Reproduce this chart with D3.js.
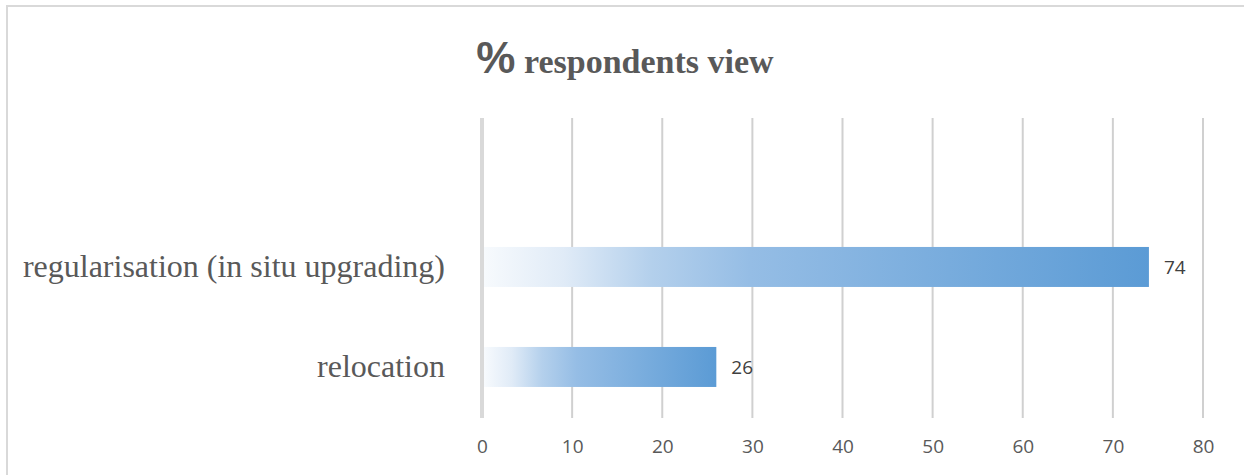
<!DOCTYPE html>
<html>
<head>
<meta charset="utf-8">
<script src="https://cdn.jsdelivr.net/npm/d3@7"></script>
<style>
  body { margin: 0; background: #fff; }
  svg { display: block; }
</style>
</head>
<body>
<div id="chart"></div>
<script>
// Chart data
const categories = ["regularisation (in situ upgrading)", "relocation"];
const values = [74, 26];
const ticks = [0, 10, 20, 30, 40, 50, 60, 70, 80];

const W = 1244, H = 475;
const margin = {top: 118, right: 41, bottom: 57, left: 482};
const width = W - margin.left - margin.right;
const height = H - margin.top - margin.bottom;

const svg = d3.select("#chart").append("svg")
  .attr("width", W)
  .attr("height", H);

// Outer frame
svg.append("rect")
  .attr("x", 7).attr("y", 6)
  .attr("width", W + 10).attr("height", H + 10)
  .attr("fill", "none")
  .attr("stroke", "#d9d9d9")
  .attr("stroke-width", 2);

// Gradient for bars
const grad = svg.append("defs").append("linearGradient")
  .attr("id", "barGrad")
  .attr("x1", "0%").attr("x2", "100%")
  .attr("y1", "0%").attr("y2", "0%");
[[0, "#f7fafd"], [0.12, "#e0ebf7"], [0.25, "#b4d0ec"], [0.4, "#95bde5"], [1, "#5b9bd5"]]
  .forEach(([o, c]) => grad.append("stop").attr("offset", o).attr("stop-color", c));

const g = svg.append("g")
  .attr("transform", `translate(${margin.left},${margin.top})`);

const x = d3.scaleLinear()
  .domain([0, 80])
  .range([0, width]);

const y = d3.scaleBand()
  .domain(categories)
  .range([0, height])
  .paddingInner(0.6)
  .paddingOuter(0.8)
  .align(0.806);

// Gridlines
g.selectAll(".grid")
  .data(ticks.slice(1))
  .enter().append("line")
    .attr("x1", d => x(d)).attr("x2", d => x(d))
    .attr("y1", 0).attr("y2", height)
    .attr("stroke", "#d0d0d0")
    .attr("stroke-width", 2);

// Zero line
g.append("line")
  .attr("x1", x(0)).attr("x2", x(0))
  .attr("y1", 0).attr("y2", height)
  .attr("stroke", "#d9d9d9")
  .attr("stroke-width", 4);

// X axis tick labels
const xAxis = g.append("g")
  .attr("transform", `translate(0,${height})`)
  .call(d3.axisBottom(x).tickValues(ticks).tickSize(0).tickPadding(22));
xAxis.select(".domain").remove();
xAxis.selectAll("text")
  .attr("fill", "#595959")
  .style("font-family", "'Open Sans', 'Liberation Sans', sans-serif")
  .style("font-size", "19px");

// Category labels
const yAxis = g.append("g")
  .call(d3.axisLeft(y).tickSize(0).tickPadding(37));
yAxis.select(".domain").remove();
yAxis.selectAll("text")
  .attr("fill", "#595959")
  .attr("dy", "0.3em")
  .style("font-family", "'Liberation Serif', 'Times New Roman', serif")
  .style("font-size", "32px");

// Bars
g.selectAll(".bar")
  .data(values)
  .enter().append("rect")
    .attr("class", "bar")
    .attr("x", x(0) + 2)
    .attr("y", (d, i) => y(categories[i]))
    .attr("width", d => x(d) - x(0) - 2)
    .attr("height", y.bandwidth())
    .attr("fill", "url(#barGrad)");

// Value labels
g.selectAll(".label")
  .data(values)
  .enter().append("text")
    .attr("class", "label")
    .attr("x", d => x(d) + 15)
    .attr("y", (d, i) => y(categories[i]) + y.bandwidth() / 2)
    .attr("dy", "0.35em")
    .attr("fill", "#404040")
    .style("font-family", "'Open Sans', 'Liberation Sans', sans-serif")
    .style("font-size", "19px")
    .text(d => d);

// Title
const title = svg.append("text")
  .attr("x", 625)
  .attr("y", 73)
  .attr("text-anchor", "middle")
  .attr("fill", "#595959")
  .style("font-weight", "bold");
title.append("tspan")
  .style("font-family", "'Liberation Sans', sans-serif")
  .style("font-size", "44px")
  .text("%");
title.append("tspan")
  .style("font-family", "'Liberation Serif', serif")
  .style("font-size", "34px")
  .text(" respondents view");
</script>
</body>
</html>
